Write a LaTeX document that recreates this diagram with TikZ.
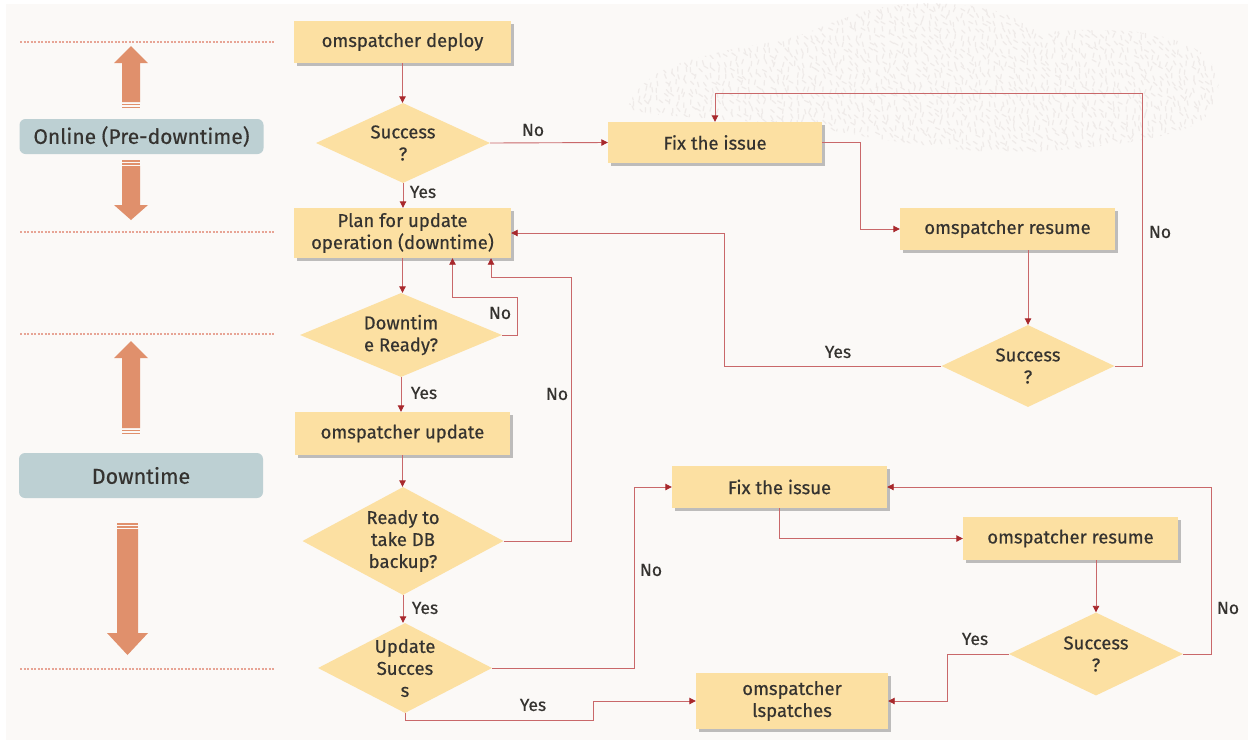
\documentclass[tikz,border=0pt]{standalone}
\usepackage{fontspec}
\setmainfont{Fira Sans}[FakeBold=0.45]
\usetikzlibrary{shapes.geometric,arrows.meta,shadows,calc}
\definecolor{bg}{HTML}{FBF9F7}
\definecolor{boxfill}{HTML}{FCE0A2}
\definecolor{txt}{HTML}{353330}
\definecolor{linec}{HTML}{C9686A}
\definecolor{arrc}{HTML}{A8282C}
\definecolor{orng}{HTML}{E0906C}
\definecolor{phasec}{HTML}{BDD0D3}
\definecolor{dotc}{HTML}{E7A495}
\definecolor{patc}{HTML}{EFEBE9}
\tikzset{
  box/.style={fill=boxfill, inner sep=0pt, align=center, text=txt,
    font=\fontsize{18.5}{22}\selectfont,
    drop shadow={shadow xshift=2.5pt, shadow yshift=-3pt, fill=black!55, opacity=0.45}},
  dec/.style={diamond, fill=boxfill, inner sep=0pt, align=center, text=txt,
    font=\fontsize{18.5}{22}\selectfont},
  conn/.style={draw=linec, line width=0.9pt, -{Triangle[length=6.5pt,width=6.5pt,color=arrc]}},
  lbl/.style={font=\fontsize{17.5}{20}\selectfont, text=txt, inner sep=0pt},
  phase/.style={fill=phasec, rounded corners=6pt, text=txt, inner sep=0pt},
  sep/.style={draw=dotc, line width=1.2pt, dash pattern=on 2pt off 1.5pt},
  pat/.style={draw=patc, line width=1.2pt, line cap=round}
}
\begin{document}
\begin{tikzpicture}[x=1pt,y=-1pt]
\useasboundingbox (0,0) rectangle (1248,740);
\fill[white] (0,0) rectangle (1248,740);
\fill[bg] (6,4) rectangle (1248,740);

% decorative texture
\begin{scope}
\clip plot[smooth cycle, tension=0.7] coordinates {(630,102) (660,72) (720,52) (790,38) (845,18) (890,6) (950,4) (1000,12) (1040,30) (1090,30) (1150,34) (1200,52) (1218,82) (1210,112) (1175,132) (1100,146) (1000,152) (900,142) (800,126) (700,118) (642,112)};
\pgfmathsetseed{7}
\foreach \i in {0,...,92}{
  \foreach \j in {0,...,23}{
    \pgfmathsetmacro\xx{625+\i*6.6+rand*2}
    \pgfmathsetmacro\yy{2+\j*6.6+rand*2}
    \pgfmathsetmacro\aa{70+rand*45}
    \draw[pat] (\xx,\yy) -- ++(\aa:4.5);
  }
}
\end{scope}

% separators
\foreach \yy in {42,232,334,669} \draw[sep] (20,\yy) -- (275,\yy);

% phase arrows
\fill[orng] (131,46) -- (148,63) -- (140,63) -- (140,102) -- (122,102) -- (122,63) -- (114,63) -- cycle;
\fill[orng] (122,103.5) rectangle (140,105);
\fill[orng] (122,106.5) rectangle (140,108);
\fill[orng] (122,160) rectangle (140,161.5);
\fill[orng] (122,163) rectangle (140,164.5);
\fill[orng] (122,166) -- (140,166) -- (140,205) -- (148,205) -- (131,220) -- (114,205) -- (122,205) -- cycle;
\fill[orng] (131,341) -- (148,358) -- (140,358) -- (140,428) -- (122,428) -- (122,358) -- (114,358) -- cycle;
\fill[orng] (122,429.5) rectangle (140,431);
\fill[orng] (122,432.5) rectangle (140,434);
\fill[orng] (117,523) rectangle (138,524.5);
\fill[orng] (117,526) rectangle (138,527.5);
\fill[orng] (117,529) -- (138,529) -- (138,633) -- (148,633) -- (127.5,655) -- (107,633) -- (117,633) -- cycle;

% phase labels
\node[phase, minimum width=244pt, minimum height=35pt, font=\fontsize{21}{24}\selectfont] (online) at (141.5,136.5) {Online (Pre-downtime)};
\node[phase, minimum width=244pt, minimum height=45pt, font=\fontsize{21.5}{24}\selectfont] (down) at (141,475.5) {Downtime};

% boxes
\node[box, minimum width=217pt, minimum height=42pt] (deploy) at (402.5,42) {omspatcher deploy};
\node[box, minimum width=214pt, minimum height=41pt] (fix1) at (715,142.5) {Fix the issue};
\node[box, minimum width=217pt, minimum height=50pt] (plan) at (402.5,233) {Plan for update\\operation (downtime)};
\node[box, minimum width=215pt, minimum height=42pt] (res1) at (1007.5,229) {omspatcher resume};
\node[box, minimum width=215pt, minimum height=43pt] (upd) at (402.5,433.5) {omspatcher update};
\node[box, minimum width=215pt, minimum height=42pt] (fix2) at (779.5,487) {Fix the issue};
\node[box, minimum width=215pt, minimum height=43pt] (res2) at (1070.5,538.5) {omspatcher resume};
\node[box, minimum width=192pt, minimum height=56pt] (lsp) at (792,701) {omspatcher\\lspatches};

% decisions
\node[dec, minimum width=174pt, minimum height=80pt, aspect=2.175] (s1) at (403,143) {Success\\?};
\node[dec, minimum width=202pt, minimum height=84pt, aspect=2.4] (dr) at (401,335) {Downtim\\e Ready?};
\node[dec, minimum width=201pt, minimum height=108pt, aspect=1.86] (rb) at (403,541) {Ready to\\take DB\\backup?};
\node[dec, minimum width=174pt, minimum height=90pt, aspect=1.93] (us) at (405,668) {Update\\Succes\\s};
\node[dec, minimum width=173pt, minimum height=82pt, aspect=2.11] (s2) at (1028,366) {Success\\?};
\node[dec, minimum width=174pt, minimum height=83pt, aspect=2.1] (s3) at (1096,654) {Success\\?};

% helper coordinates
\coordinate (c6a) at (1142,93);
\coordinate (c7) at (724,233);
\coordinate (c9) at (517,297);
\coordinate (c12) at (571,277);
\coordinate (c14) at (634,487);
\coordinate (c15a) at (405,720);
\coordinate (c15b) at (593,701);
\coordinate (c18) at (1211,487);
\coordinate (c19) at (947,701);

% connectors
\draw[conn] (deploy.south) -- (deploy.south |- s1.north);
\draw[conn] (s1.east) -- (fix1.west);
\draw[conn] (s1.south) -- (s1.south |- plan.north);
\draw[conn] (fix1.east) -- ++(38,0) |- (res1.west);
\draw[conn] (s2.north |- res1.south) -- (s2.north);
\draw[conn] (s2.east) -| (c6a) -| (fix1.north);
\draw[conn] (s2.west) -| (c7) -- (plan.east);
\draw[conn] (plan.south) -- (plan.south |- dr.north);
\draw[conn] (dr.east) -| (c9) -| ([xshift=50pt]plan.south);
\draw[conn] (dr.south) -- (dr.south |- upd.north);
\draw[conn] (upd.south) -- (upd.south |- rb.north);
\draw[conn] (rb.east) -| (c12) -| ([xshift=88.5pt]plan.south);
\draw[conn] (rb.south) -- (rb.south |- us.north);
\draw[conn] (us.east) -| (c14) -- (fix2.west);
\draw[conn] (us.south) -- (c15a) -| (c15b) -- (lsp.west);
\draw[conn] (fix2.south) |- (res2.west);
\draw[conn] (s3.north |- res2.south) -- (s3.north);
\draw[conn] (s3.east) -| (c18) -- (fix2.east);
\draw[conn] (s3.west) -| (c19) -- (lsp.east);

% labels
\node[lbl] (l1) at (533,130) {No};
\node[lbl] (l2) at (423,192) {Yes};
\node[lbl] (l3) at (1160,232) {No};
\node[lbl] (l4) at (838,352) {Yes};
\node[lbl] (l5) at (500,313) {No};
\node[lbl] (l6) at (424,393) {Yes};
\node[lbl] (l7) at (557,394) {No};
\node[lbl] (l8) at (425,608) {Yes};
\node[lbl] (l9) at (651,570) {No};
\node[lbl] (l10) at (533,705) {Yes};
\node[lbl] (l11) at (1228,608) {No};
\node[lbl] (l12) at (975,639) {Yes};
\end{tikzpicture}
\end{document}
